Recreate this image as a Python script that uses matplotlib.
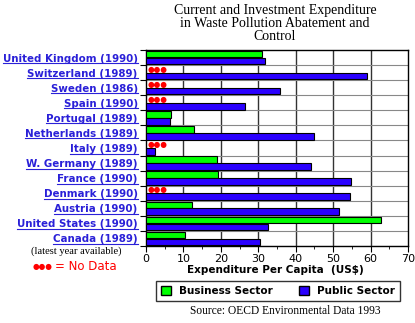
import numpy as np
import matplotlib.pyplot as plt
from matplotlib.lines import Line2D
from matplotlib.patches import Patch

countries = ['United Kingdom (1990)', 'Switzerland (1989)', 'Sweden (1986)', 'Spain (1990)',
             'Portugal (1989)', 'Netherlands (1989)', 'Italy (1989)', 'W. Germany (1989)',
             'France (1990)', 'Denmark (1990)', 'Austria (1990)', 'United States (1990)',
             'Canada (1989)']
# None = no data
business = [31, None, None, None, 6.6, 12.9, None, 18.9, 19.2, None, 12.2, 62.7, 10.3]
public = [31.7, 59.0, 35.8, 26.5, 6.3, 44.8, 2.3, 44.0, 54.7, 54.4, 51.6, 32.5, 30.5]

GREEN, BLUE, LINK = '#00ff00', '#2a00ff', '#2a20d8'
W, H = 415, 323

fig = plt.figure(figsize=(W / 100, H / 100), dpi=100)
ax = fig.add_axes([146 / W, 1 - 246 / H, 262 / W, 196 / H])

y = np.arange(len(countries))
bh = 0.44
for i, (b, p) in enumerate(zip(business, public)):
    if b is None:
        ax.text(0.5, i - 0.22, '\u25cf\u25cf\u25cf', color='red', fontsize=5.5, va='center', zorder=4)
    else:
        ax.barh(i - 0.23, b, height=bh, color=GREEN, edgecolor='black', lw=0.8, zorder=3)
    ax.barh(i + 0.23, p, height=bh, color=BLUE, edgecolor='black', lw=0.8, zorder=3)

ax.set_xlim(0, 70)
ax.set_ylim(len(countries) - 0.5, -0.5)
ax.set_xticks(np.arange(0, 71, 10))
ax.set_xticks(np.arange(5, 70, 10), minor=True)
ax.tick_params(axis='x', which='major', length=4, labelsize=8, pad=2)
ax.tick_params(axis='x', which='minor', length=2)

ax.set_yticks(np.arange(len(countries) + 1) - 0.5)
ax.set_yticklabels([])
ax.set_yticks(y, minor=True)
ax.set_yticklabels(countries, minor=True, color=LINK, fontweight='bold', fontsize=7.4)
ax.tick_params(axis='y', which='major', length=4)
ax.tick_params(axis='y', which='minor', length=0, pad=6)

for v in range(10, 70, 10):
    ax.axvline(v, color='#333333', lw=1, zorder=1)
for b in np.arange(len(countries)) + 0.5:
    ax.axhline(b, color='#888888', lw=0.8, zorder=1)
for s in ax.spines.values():
    s.set_linewidth(1)

fig.text(275 / W, 1 - 4 / H, 'Current and Investment Expenditure\nin Waste Pollution Abatement and\nControl',
         ha='center', va='top', family='Liberation Serif', fontsize=10, linespacing=1.0)
fig.text(275 / W, 1 - 270 / H, 'Expenditure Per Capita  (US$)', ha='center', va='center',
         fontweight='bold', fontsize=7.5)
fig.text(285 / W, 1 - 311 / H, 'Source: OECD Environmental Data 1993', ha='center', va='center',
         family='Liberation Serif', fontsize=8.3)
fig.text(76 / W, 1 - 251 / H, '(latest year available)', ha='center', va='center',
         family='Liberation Serif', fontsize=7.6)
fig.text(33 / W, 1 - 266 / H, '\u25cf\u25cf\u25cf', color='red', ha='left', va='center', fontsize=5.5)
fig.text(55 / W, 1 - 266 / H, '= No Data', color='red', ha='left', va='center', fontsize=8.5)

handles = [Patch(facecolor=GREEN, edgecolor='black', label='Business Sector'),
           Patch(facecolor=BLUE, edgecolor='black', label='Public Sector')]
leg = fig.legend(handles=handles, loc='lower left', ncol=2, mode='expand',
                 bbox_to_anchor=(156 / W, 1 - 301 / H, 244 / W, 21 / H), fancybox=False,
                 edgecolor='black', prop={'weight': 'bold', 'size': 7.5},
                 handlelength=1.0, handleheight=1.0, borderpad=0.45, borderaxespad=0)
leg.get_frame().set_linewidth(1)

# underline the country labels
fig.canvas.draw()
r = fig.canvas.get_renderer()
for lab in ax.get_yticklabels(minor=True):
    bb = lab.get_window_extent(r)
    fig.add_artist(Line2D([bb.x0 / W, bb.x1 / W], [(bb.y0 + 0.5) / H] * 2,
                          transform=fig.transFigure, color=LINK, lw=0.8))

fig.savefig('out.png', dpi=100)
